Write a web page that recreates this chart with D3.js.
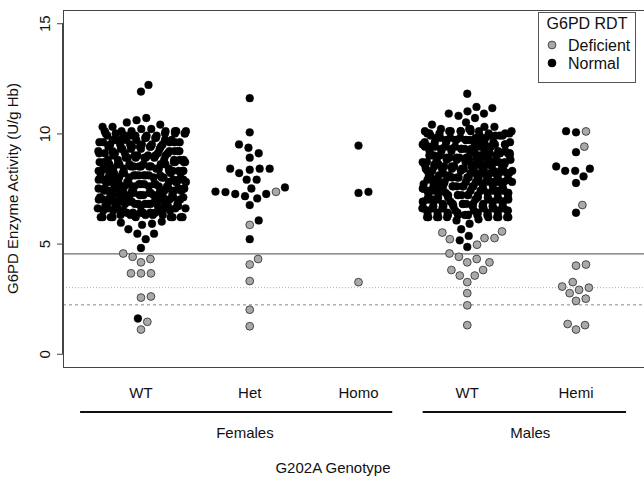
<!DOCTYPE html>
<html><head><meta charset="utf-8">
<script src="https://cdn.jsdelivr.net/npm/d3@7"></script>
<style>body{margin:0;background:#fff}svg{display:block}text{font-family:"Liberation Sans",Arial,Helvetica,sans-serif;fill:#111}</style>
</head><body><svg id="c" width="644" height="483"></svg>
<script>
// ---------------- data ----------------
const genotypes = ["WT", "Het", "Homo", "WT", "Hemi"];
const sexLabels = ["Females", "Males"];
const yTicks = [0, 5, 10, 15];
const thresholds = [4.53, 3.0, 2.22];           // solid, dotted, dashed reference lines
const legendTitle = "G6PD RDT";
const legendLabels = ["Deficient", "Normal"];
const yTitle = "G6PD Enzyme Activity (U/g Hb)";
const xTitle = "G202A Genotype";

const wtFemaleNormal = [1.6, 4.8, 5.2, 5.45, 5.45, 5.65, 5.85, 5.9, 5.95, 6.0,
 6.2,6.2,6.2,6.2,6.2,6.2,6.2,6.2,6.2,
 6.3,6.3,6.3,6.3,6.3, 6.4,6.4,6.4,6.4,6.4,6.4, 6.5,6.5,6.5,6.5,6.5, 6.6,6.6,6.6,6.6,6.6,6.6,
 6.7,6.7,6.7,6.7,6.7,6.7, 6.8,6.8,6.8,6.8,6.8,6.8,6.8, 6.9,6.9,6.9,6.9,6.9,6.9,
 7.0,7.0,7.0,7.0,7.0,7.0, 7.1,7.1,7.1,7.1,7.1,7.1, 7.2,7.2,7.2,7.2,7.2,7.2,7.2,
 7.3,7.3,7.3,7.3,7.3,7.3, 7.4,7.4,7.4,7.4,7.4,7.4, 7.5,7.5,7.5,7.5,7.5,7.5,7.5,
 7.6,7.6,7.6,7.6,7.6,7.6, 7.7,7.7,7.7,7.7,7.7,7.7,7.7, 7.8,7.8,7.8,7.8,7.8,7.8,7.8,
 7.9,7.9,7.9,7.9,7.9,7.9, 8.0,8.0,8.0,8.0,8.0,8.0,8.0, 8.1,8.1,8.1,8.1,8.1,8.1,8.1,
 8.2,8.2,8.2,8.2,8.2,8.2, 8.3,8.3,8.3,8.3,8.3,8.3,8.3, 8.4,8.4,8.4,8.4,8.4,8.4,
 8.5,8.5,8.5,8.5,8.5,8.5, 8.6,8.6,8.6,8.6,8.6,8.6,8.6, 8.7,8.7,8.7,8.7,8.7,8.7,
 8.8,8.8,8.8,8.8,8.8,8.8, 8.9,8.9,8.9,8.9,8.9,8.9, 9.0,9.0,9.0,9.0,9.0,9.0,
 9.1,9.1,9.1,9.1,9.1,9.1, 9.2,9.2,9.2,9.2,9.2,9.2, 9.3,9.3,9.3,9.3,9.3,
 9.4,9.4,9.4,9.4,9.4,9.4, 9.5,9.5,9.5,9.5,9.5,9.5, 9.6,9.6,9.6,9.6,9.6,
 9.7,9.7,9.7,9.7,9.7,9.7, 9.8,9.8,9.8,9.8,9.8, 9.9,9.9,9.9,9.9,9.9,9.9,
 10.0,10.0,10.0,10.0,10.0,10.0, 10.1,10.1,10.1,10.1,10.1,10.1,10.1,
 10.2,10.2,10.3,10.3,10.4,10.5,10.6,10.7, 11.9, 12.2];
const wtFemaleDeficient = [4.55, 4.4, 4.3, 4.15, 3.65, 3.65, 3.65, 2.6, 2.55, 1.45, 1.1];

const hetNormal = [11.6, 10.05, 9.5, 9.35, 9.1, 8.9, 8.4, 8.2, 8.35, 8.4, 8.4, 7.9, 7.9, 7.5,
 7.34, 7.36, 7.25, 7.15, 6.75, 7.05, 7.25, 7.55, 6.05, 5.2];
const hetDeficient = [7.35, 5.85, 4.3, 4.05, 3.3, 2.0, 1.25];

const homoNormal = [9.45, 7.3, 7.35];
const homoDeficient = [3.25];

const wtMaleNormal = [4.85, 5.15, 5.35, 5.65, 5.9, 6.05, 6.1,
 6.2,6.2,6.2,6.2,6.2,6.2,6.2,6.2,6.2,6.2,
 6.3,6.3,6.3,6.3,6.3,6.3,6.3, 6.4,6.4,6.4,6.4,6.4,6.4,6.4, 6.5,6.5,6.5,6.5,6.5,6.5,
 6.6,6.6,6.6,6.6,6.6,6.6,6.6, 6.7,6.7,6.7,6.7,6.7,6.7,6.7, 6.8,6.8,6.8,6.8,6.8,6.8,6.8,
 6.9,6.9,6.9,6.9,6.9,6.9,6.9, 7.0,7.0,7.0,7.0,7.0,7.0,7.0, 7.1,7.1,7.1,7.1,7.1,7.1,7.1,
 7.2,7.2,7.2,7.2,7.2,7.2,7.2, 7.3,7.3,7.3,7.3,7.3,7.3,7.3, 7.4,7.4,7.4,7.4,7.4,7.4,7.4,
 7.5,7.5,7.5,7.5,7.5,7.5,7.5,7.5, 7.6,7.6,7.6,7.6,7.6,7.6,7.6, 7.7,7.7,7.7,7.7,7.7,7.7,7.7,
 7.8,7.8,7.8,7.8,7.8,7.8,7.8,7.8, 7.9,7.9,7.9,7.9,7.9,7.9,7.9, 8.0,8.0,8.0,8.0,8.0,8.0,8.0,8.0,
 8.1,8.1,8.1,8.1,8.1,8.1,8.1, 8.2,8.2,8.2,8.2,8.2,8.2,8.2, 8.3,8.3,8.3,8.3,8.3,8.3,8.3,
 8.4,8.4,8.4,8.4,8.4,8.4,8.4, 8.5,8.5,8.5,8.5,8.5,8.5,8.5, 8.6,8.6,8.6,8.6,8.6,8.6,8.6,
 8.7,8.7,8.7,8.7,8.7,8.7,8.7, 8.8,8.8,8.8,8.8,8.8,8.8,8.8, 8.9,8.9,8.9,8.9,8.9,8.9,8.9,
 9.0,9.0,9.0,9.0,9.0,9.0,9.0, 9.1,9.1,9.1,9.1,9.1,9.1, 9.2,9.2,9.2,9.2,9.2,9.2,9.2,
 9.3,9.3,9.3,9.3,9.3,9.3, 9.4,9.4,9.4,9.4,9.4,9.4,9.4, 9.5,9.5,9.5,9.5,9.5,9.5,
 9.6,9.6,9.6,9.6,9.6,9.6, 9.7,9.7,9.7,9.7,9.7,9.7, 9.8,9.8,9.8,9.8,9.8,9.8,
 9.9,9.9,9.9,9.9,9.9,9.9, 10.0,10.0,10.0,10.0,10.0,10.0, 10.1,10.1,10.1,10.1,10.1,10.1,10.1,10.1,
 10.2,10.2,10.2,10.3,10.3,10.4,10.5,10.7,10.8,10.9,10.9,11.0,11.15,11.2,11.8];
const wtMaleDeficient = [5.5, 5.25, 5.55, 5.2, 5.25, 4.95, 4.55, 4.4, 4.3, 4.15, 4.15, 3.8, 3.8,
 3.55, 3.55, 3.25, 2.75, 2.2, 1.3];

const hemiNormal = [10.05, 10.1, 9.15, 8.5, 8.3, 8.3, 8.05, 8.4, 7.75, 6.4];
const hemiDeficient = [10.09, 9.4, 6.75, 4.0, 4.05, 3.25, 2.9, 2.75, 3.0, 3.05, 2.4, 2.5, 1.35, 1.1, 1.3];

const normalByGroup = [wtFemaleNormal, hetNormal, homoNormal, wtMaleNormal, hemiNormal];
const deficientByGroup = [wtFemaleDeficient, hetDeficient, homoDeficient, wtMaleDeficient, hemiDeficient];

// ---------------- layout ----------------
const svg = d3.select("#c");
const FONT = 15;
const plotL = 63, plotT = 10, plotB = 367, plotR = 654;
const x = d3.scaleLinear().domain([0.283, 5.717]).range([plotL, plotR]);
const y = d3.scaleLinear().domain([-0.6, 15.6]).range([plotB, plotT]);
const D = 10;      // swarm spacing (px)
const HW = 45;     // corral half width (px), wrap
const R = 3.9;

// reference lines
const refStyles = [
  {stroke: "#6e6e6e", dash: null, w: 1.3},
  {stroke: "#b0b0b0", dash: "1,2", w: 1},
  {stroke: "#8a8a8a", dash: "3,3", w: 1}
];
svg.append("g").selectAll("line").data(thresholds).join("line")
  .attr("x1", plotL).attr("x2", plotR)
  .attr("y1", d => y(d)).attr("y2", d => y(d))
  .attr("stroke", (d, i) => refStyles[i].stroke)
  .attr("stroke-width", (d, i) => refStyles[i].w)
  .attr("stroke-dasharray", (d, i) => refStyles[i].dash);

// frame
svg.append("rect").attr("x", plotL + 0.5).attr("y", plotT + 0.5)
  .attr("width", plotR - plotL).attr("height", plotB - plotT)
  .attr("fill", "none").attr("stroke", "#444").attr("stroke-width", 1);

// swarm (ascending priority, right side first), then wrap corral
function swarm(pts) {
  pts.sort((a, b) => a.v - b.v);
  const placed = [];
  for (const p of pts) {
    p.py = y(p.v);
    const near = placed.filter(q => Math.abs(q.py - p.py) < D);
    near.sort((a, b) => Math.abs(a.dx) - Math.abs(b.dx));
    const cands = [0];
    for (const q of near) {
      const dy = q.py - p.py;
      const off = Math.sqrt(D * D - dy * dy);
      cands.push(q.dx + off, q.dx - off);
    }
    const order = cands.map((c, i) => [c, i]).sort((a, b) => Math.abs(a[0]) - Math.abs(b[0]) || a[1] - b[1]);
    p.dx = 0;
    for (const [c] of order) {
      let ok = true;
      for (const q of near) {
        const dy = q.py - p.py, dx = q.dx - c;
        if (dx * dx + dy * dy < D * D * 0.999) { ok = false; break; }
      }
      if (ok) { p.dx = c; break; }
    }
    placed.push(p);
  }
  const W = 2 * HW;
  for (const p of pts) {
    if (Math.abs(p.dx) > HW) p.dx = (((p.dx + HW) % W) + W) % W - HW;
  }
  return pts;
}

const allPts = [];
normalByGroup.forEach((arr, gi) => {
  const pts = arr.map(v => ({v, def: false, g: gi + 1}))
    .concat(deficientByGroup[gi].map(v => ({v, def: true, g: gi + 1})));
  swarm(pts);
  allPts.push(...pts);
});

svg.append("g").selectAll("circle").data(allPts).join("circle")
  .attr("cx", d => x(d.g) + d.dx)
  .attr("cy", d => d.py)
  .attr("r", R)
  .attr("fill", d => d.def ? "#a9a9a9" : "#000")
  .attr("stroke", d => d.def ? "#3a3a3a" : "#000")
  .attr("stroke-width", d => d.def ? 0.9 : 0.4);

// y axis
const yAxis = svg.append("g").attr("transform", `translate(${plotL},0)`)
  .call(d3.axisLeft(y).tickValues(yTicks).tickSize(6).tickSizeOuter(0).tickFormat(d3.format("d")));
yAxis.select(".domain").attr("d", `M-0.5,${y(0)}V${y(15)}`).attr("stroke", "#444");
yAxis.selectAll(".tick line").attr("stroke", "#444");
yAxis.selectAll(".tick text")
  .attr("x", null).attr("dy", null)
  .attr("transform", "translate(-13,0) rotate(-90)")
  .attr("text-anchor", "middle")
  .style("font-size", FONT + "px").style("font-family", '"Liberation Sans", Arial, sans-serif').attr("fill", "#111");

svg.append("text").attr("transform", `translate(18,${(plotT + plotB) / 2}) rotate(-90)`)
  .attr("text-anchor", "middle").style("font-size", FONT + "px").text(yTitle);

// x labels
svg.append("g").selectAll("text").data(genotypes).join("text")
  .attr("x", (d, i) => x(i + 1)).attr("y", 397.5)
  .attr("text-anchor", "middle").style("font-size", FONT + "px").text(d => d);

// sex group lines & labels
const sexSpans = [[0.44, 3.31], [3.59, 5.46]];
const sexLabelPos = [1.956, 4.58];
svg.append("g").selectAll("line").data(sexSpans).join("line")
  .attr("x1", d => x(d[0])).attr("x2", d => x(d[1]))
  .attr("y1", 412).attr("y2", 412).attr("stroke", "#111").attr("stroke-width", 2);
svg.append("g").selectAll("text").data(sexLabels).join("text")
  .attr("x", (d, i) => x(sexLabelPos[i])).attr("y", 437.5)
  .attr("text-anchor", "middle").style("font-size", FONT + "px").text(d => d);

svg.append("text").attr("x", 333).attr("y", 472.5).attr("text-anchor", "middle")
  .style("font-size", FONT + "px").text(xTitle);

// legend
const lg = svg.append("g").attr("transform", "translate(538,12)");
lg.append("rect").attr("x", 0.5).attr("y", 0.5).attr("width", 97).attr("height", 70)
  .attr("fill", "#fff").attr("stroke", "#555");
lg.append("text").attr("x", 49).attr("y", 17).attr("text-anchor", "middle")
  .style("font-size", "16px").text(legendTitle);
lg.selectAll("g.item").data(legendLabels).join("g").attr("class", "item")
  .attr("transform", (d, i) => `translate(0,${33 + i * 18})`)
  .each(function (d, i) {
    const g = d3.select(this);
    g.append("circle").attr("cx", 14).attr("cy", 0).attr("r", R)
      .attr("fill", i === 0 ? "#a9a9a9" : "#000").attr("stroke", i === 0 ? "#3a3a3a" : "#000").attr("stroke-width", 0.9);
    g.append("text").attr("x", 30).attr("y", 5.5).style("font-size", "16px").text(d);
  });
</script></body></html>
